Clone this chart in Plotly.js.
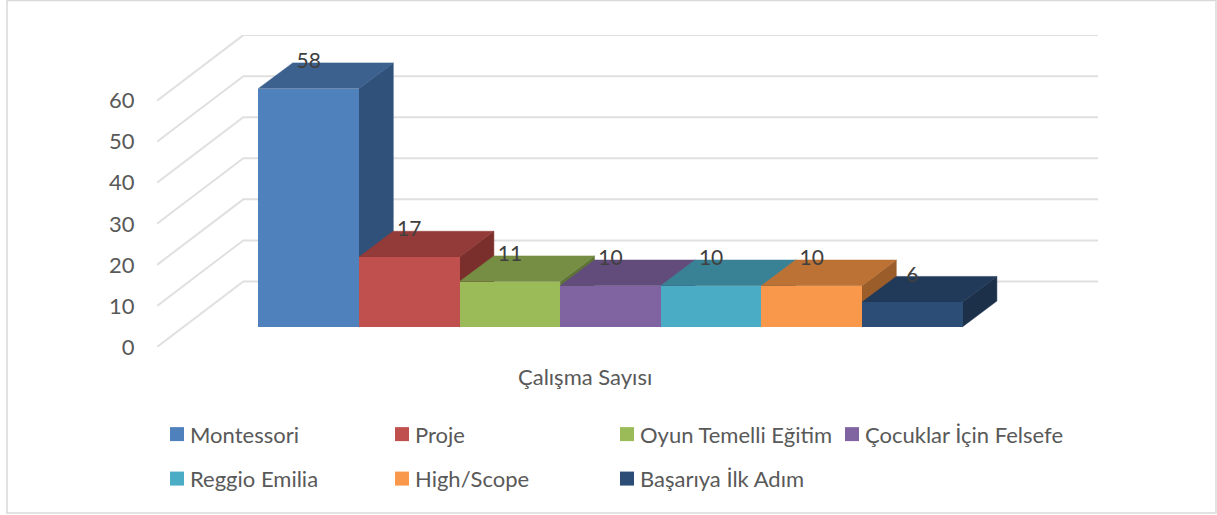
<!DOCTYPE html>
<html>
<head>
<meta charset="utf-8">
<script src="https://cdn.plot.ly/plotly-3.0.1.min.js"></script>
<style>html,body{margin:0;padding:0;background:#fff;overflow:hidden}#chart{width:1217px;height:515px}</style>
</head>
<body>
<div id="chart"></div>
<script>
// ---- data ----
const categories = ['Montessori','Proje','Oyun Temelli Eğitim','Çocuklar İçin Felsefe','Reggio Emilia','High/Scope','Başarıya İlk Adım'];
const values = [58,17,11,10,10,10,6];
const yTicks = [0,10,20,30,40,50,60];
const axisLabel = 'Çalışma Sayısı';
// ---- styles ----
const frontColors = ['#4F81BD','#C0504D','#9BBB59','#8064A2','#4BACC6','#F9974A','#2C4D75'];
const topColors   = ['#3C618F','#923B39','#758E43','#614C7B','#398296','#BC7135','#223A59'];
const sideColors  = ['#30527A','#7A2F2D','#5F7436','#4E3D64','#2E6A7A','#9B5E2A','#1C304A'];
const gridColor = '#E0E0E0', tickColor = '#595959', labelColor = '#404040', FONT = 'Lato, Carlito, sans-serif';

// projection of the pseudo-3D chart, in axis units
const W = 1217, H = 515;
const L = 157, R = 1098, T = 35, B = 347.3;      // plot area in page pixels
const unitX = 100.6, unitY = 4.11, bar0 = 258.4, base = 327;
const xRange = [(L-bar0)/unitX, (R-bar0)/unitX];
const wallRange = [0, (B-T)/unitY];
const barRange = [(base-B)/unitY, (base-T)/unitY];
const depthX = 34.3/unitX, depthY = 25.7/unitY;   // bar depth
const wallX = 86.3/unitX, wallY = 65.6/unitY;     // side-wall depth

const traces = [];
// side-wall gridlines plus back-wall gridlines, on the labelled axis
const gx = [], gy = [];
yTicks.forEach(v => {
  gx.push(xRange[0], xRange[0]+wallX, xRange[1], null);
  gy.push(v, v+wallY, v+wallY, null);
});
traces.push({type:'scatter',mode:'lines',x:gx,y:gy,xaxis:'x',yaxis:'y',hoverinfo:'skip',showlegend:false,
  cliponaxis:false,line:{color:gridColor,width:2}});
// side and top faces, painted left to right
values.forEach((v,i) => {
  traces.push({type:'scatter',mode:'lines',fill:'toself',fillcolor:sideColors[i],
    x:[i+1,i+1+depthX,i+1+depthX,i+1,i+1],y:[0,depthY,v+depthY,v,0],xaxis:'x',yaxis:'y2',
    line:{color:sideColors[i],width:0.5},hoverinfo:'skip',showlegend:false,cliponaxis:false});
  traces.push({type:'scatter',mode:'lines',fill:'toself',fillcolor:topColors[i],
    x:[i,i+1,i+1+depthX,i+depthX,i],y:[v,v,v+depthY,v+depthY,v],xaxis:'x',yaxis:'y2',
    line:{color:topColors[i],width:0.5},hoverinfo:'skip',showlegend:false,cliponaxis:false});
});
// front faces
traces.push({type:'bar',x:values.map((v,i)=>i+0.5),y:values,width:1,xaxis:'x',yaxis:'y3',
  marker:{color:frontColors,line:{width:0}},text:categories,textposition:'none',
  hovertemplate:'%{text}: %{y}<extra></extra>',showlegend:false});
// data labels
traces.push({type:'scatter',mode:'text',x:values.map((v,i)=>i+0.5),y:values.map(v=>v+depthY),
  text:values.map(String),textposition:'middle center',textfont:{family:FONT,size:21,color:labelColor},
  xaxis:'x',yaxis:'y3',hoverinfo:'skip',showlegend:false,cliponaxis:false});

const px = x => (x-L)/(R-L);
const py = y => (B-y)/(B-T);
const shapes = [{type:'rect',xref:'paper',yref:'paper',x0:px(7),x1:px(1216),y0:py(0.5),y1:py(513.5),
  line:{color:'#D9D9D9',width:1.5},fillcolor:'rgba(0,0,0,0)',layer:'below'}];
const annotations = [{xref:'paper',yref:'paper',x:px(585),y:py(377),text:axisLabel,showarrow:false,
  xanchor:'center',yanchor:'middle',font:{family:FONT,size:22,color:tickColor}}];
// legend: four columns, two rows
const legX = [170,395,620,845], legY = [434.5,479];
categories.forEach((c,i) => {
  const col = i%4, row = Math.floor(i/4), x = legX[col], y = legY[row];
  shapes.push({type:'rect',xref:'paper',yref:'paper',x0:px(x),x1:px(x+14),y0:py(y-7),y1:py(y+7),
    fillcolor:frontColors[i],line:{width:0}});
  annotations.push({xref:'paper',yref:'paper',x:px(x+18),y:py(y),text:c,showarrow:false,
    xanchor:'left',yanchor:'middle',font:{family:FONT,size:22,color:tickColor}});
});

const hidden = {visible:false,fixedrange:true};
Plotly.newPlot('chart',traces,{
  width:W,height:H,paper_bgcolor:'#fff',plot_bgcolor:'rgba(0,0,0,0)',
  margin:{l:L,r:W-R,t:T,b:H-B,pad:0},showlegend:false,bargap:0,
  font:{family:FONT},
  xaxis:Object.assign({range:xRange},hidden),
  yaxis:{range:wallRange,tickmode:'array',tickvals:yTicks,ticktext:yTicks.map(String),showgrid:false,zeroline:false,
    showline:false,ticks:'outside',ticklen:17,tickcolor:'rgba(0,0,0,0)',tickfont:{family:FONT,size:22,color:tickColor},fixedrange:true},
  yaxis2:Object.assign({range:barRange,overlaying:'y'},hidden),
  yaxis3:Object.assign({range:barRange,overlaying:'y'},hidden),
  shapes,annotations
},{displayModeBar:false,staticPlot:false});
</script>
</body>
</html>
